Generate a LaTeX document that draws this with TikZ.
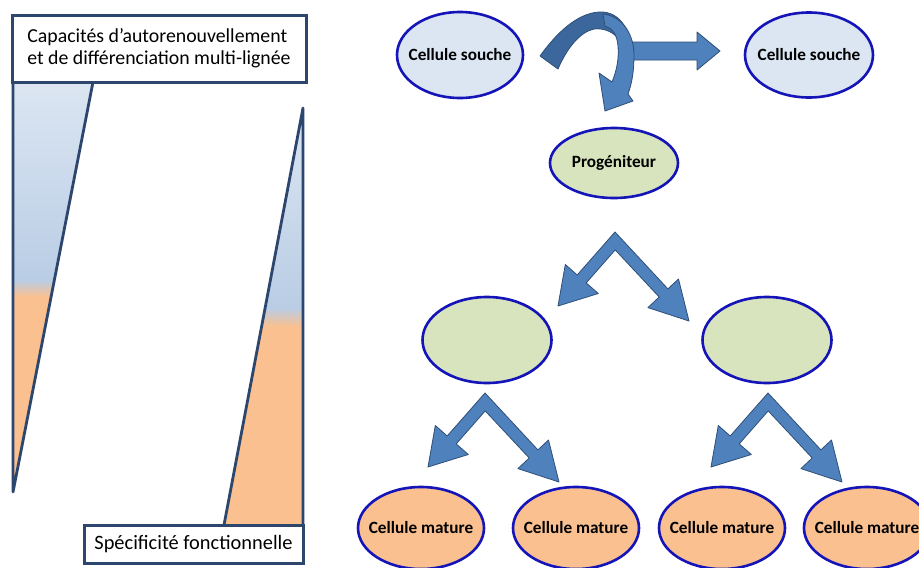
\documentclass[tikz,border=0pt]{standalone}
\usepackage{fontspec}
\setmainfont{Carlito}
\usetikzlibrary{shapes.geometric}
\definecolor{cellblue}{HTML}{DCE6F2}
\definecolor{cellgreen}{HTML}{D7E4BD}
\definecolor{cellorange}{HTML}{FAC090}
\definecolor{rimblue}{RGB}{20,20,185}
\definecolor{boxline}{RGB}{45,70,110}
\definecolor{wedgeblue}{HTML}{B9CDE5}
\definecolor{arrowfill}{HTML}{4F81BD}
\definecolor{arrowdark}{HTML}{3C679C}
\definecolor{arrowline}{HTML}{2F4F78}
\newcommand{\celltext}[1]{\makebox[0pt]{#1}}
\tikzset{
  cell/.style={ellipse, draw=rimblue, line width=2.6pt, inner sep=0pt,
    font=\fontsize{17.2}{19}\selectfont\bfseries},
  blockarrow/.style={fill=arrowfill, draw=arrowline, line width=0.8pt, line join=round},
  labelbox/.style={draw=boxline, line width=3pt, fill=white, inner sep=0pt},
  wedgeline/.style={draw=boxline, line width=2.8pt, line join=round},
  splitarrow/.pic={
    \draw[blockarrow] (0,0) -- (52.9,56.9) -- (63.5,47) -- (74,89) -- (32.9,75.6)
      -- (44.2,65) -- (0.2,17.9) -- (-28.8,50.9) -- (-16.7,61.5) -- (-57,74)
      -- (-49.7,32.5) -- (-37.8,43) -- cycle;
  }
}
\begin{document}
\begin{tikzpicture}[x=1pt, y=-1pt]
\useasboundingbox[fill=white] (0,0) rectangle (919,568);

% left wedge
\begin{scope}
  \clip (13,82) -- (93,82) -- (13,492) -- cycle;
  \shade[top color=cellblue, bottom color=wedgeblue] (0,80) rectangle (110,280.5);
  \shade[top color=wedgeblue, bottom color=cellorange] (0,280) rectangle (110,296.5);
  \fill[cellorange] (0,296) rectangle (110,500);
\end{scope}
\draw[wedgeline] (13,82) -- (13,492) -- (93,82);

% right wedge
\begin{scope}
  \clip (303,108) -- (303,525) -- (224,525) -- cycle;
  \shade[top color=cellblue, bottom color=wedgeblue] (200,105) rectangle (310,308.5);
  \shade[top color=wedgeblue, bottom color=cellorange] (200,308) rectangle (310,326.5);
  \fill[cellorange] (200,326) rectangle (310,530);
\end{scope}
\draw[wedgeline] (303,525) -- (303,108) -- (224,525);

% label boxes
\node[labelbox, align=left, minimum width=294pt, minimum height=67pt,
  font=\fontsize{19.8}{22}\selectfont] (capbox) at (159,48.5)
  {Capacités d’autorenouvellement\\et de différenciation multi-lignée};
\node[labelbox, align=center, minimum width=219pt, minimum height=38pt,
  font=\fontsize{20.4}{22}\selectfont] (specbox) at (193.5,544)
  {Spécificité fonctionnelle};

% cells
\node[cell, fill=cellblue, minimum width=126pt, minimum height=86pt] (cs1) at (460,55) {\celltext{Cellule souche}};
\node[cell, fill=cellblue, minimum width=128pt, minimum height=85pt] (cs2) at (809,55) {\celltext{Cellule souche}};
\node[cell, fill=cellgreen, minimum width=128pt, minimum height=70pt] (prog) at (614,163) {\celltext{Progéniteur}};
\node[cell, fill=cellgreen, minimum width=129pt, minimum height=86pt] (midl) at (487,340) {};
\node[cell, fill=cellgreen, minimum width=129pt, minimum height=86pt] (midr) at (767,340) {};
\node[cell, fill=cellorange, minimum width=126pt, minimum height=82pt] (mat1) at (421,528) {\celltext{Cellule mature}};
\node[cell, fill=cellorange, minimum width=126pt, minimum height=82pt] (mat2) at (576,528) {\celltext{Cellule mature}};
\node[cell, fill=cellorange, minimum width=126pt, minimum height=82pt] (mat3) at (722,528) {\celltext{Cellule mature}};
\node[cell, fill=cellorange, minimum width=126pt, minimum height=82pt] (mat4) at (867,528) {\celltext{Cellule mature}};

% curved self-renewal arrow (back band)
\draw[blockarrow, fill=arrowdark] (540,56) .. controls (560,28) and (582,11) .. (603,12)
  .. controls (614,13) and (621,19) .. (627,30) -- (617,37)
  .. controls (611,31) and (603,28) .. (594,29)
  .. controls (580,32) and (567,48) .. (558,69) -- cycle;
% straight arrow to the second stem cell
\draw[blockarrow] (628,42) -- (697,42) -- (697,32) -- (720,51) -- (697,70) -- (697,60) -- (628,60) -- cycle;
% curved arrow front band down to the progenitor
\draw[blockarrow] (603,14) .. controls (622,16) and (634,34) .. (634,55)
  .. controls (634,74) and (631,86) .. (628,94) -- (633,101) -- (605,111) -- (599,73) -- (612,82)
  .. controls (617,70) and (619,58) .. (618,46)
  .. controls (617,34) and (612,28) .. (605,26) -- cycle;

% split arrows
\pic at (615,232) {splitarrow};
\pic at (485,393) {splitarrow};
\pic at (768,393) {splitarrow};
\end{tikzpicture}
\end{document}
